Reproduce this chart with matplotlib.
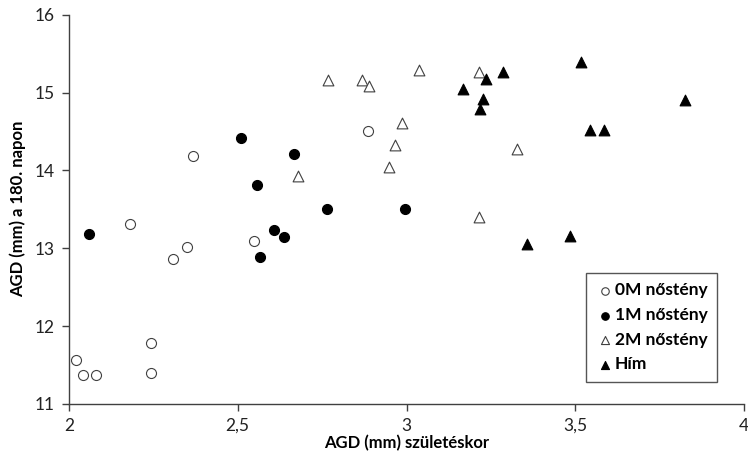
import matplotlib
matplotlib.use("Agg")
import matplotlib.pyplot as plt
from matplotlib.ticker import FuncFormatter

plt.rcParams['font.family'] = ['Lato', 'DejaVu Sans']

# AGD at birth (x) and AGD on day 180 (y), per group
f0m_x = [2.021, 2.041, 2.081, 2.242, 2.242, 2.18, 2.309, 2.35, 2.368, 2.547, 2.887]
f0m_y = [11.57, 11.37, 11.37, 11.78, 11.40, 13.31, 12.86, 13.01, 14.19, 13.09, 14.51]

f1m_x = [2.06, 2.509, 2.667, 2.558, 2.765, 2.996, 2.609, 2.637, 2.567]
f1m_y = [13.18, 14.42, 14.21, 13.81, 13.50, 13.50, 13.24, 13.15, 12.89]

f2m_x = [2.68, 2.987, 2.966, 2.948, 2.768, 2.867, 2.889, 3.037, 3.216, 3.326, 3.216]
f2m_y = [13.93, 14.61, 14.32, 14.04, 15.16, 15.16, 15.09, 15.29, 15.26, 14.28, 13.40]

him_x = [3.236, 3.287, 3.166, 3.226, 3.217, 3.516, 3.824, 3.544, 3.585, 3.356, 3.485]
him_y = [15.18, 15.26, 15.04, 14.92, 14.79, 15.39, 14.91, 14.52, 14.52, 13.05, 13.16]

labels = ["0M nőstény", "1M nőstény", "2M nőstény", "Hím"]

fig = plt.figure(figsize=(7.48, 4.58), dpi=100)
ax = fig.add_axes([0.092, 0.118, 0.903, 0.850])

edge = '#404040'
ax.scatter(f0m_x, f0m_y, s=52, marker='o', facecolors='white', edgecolors=edge,
           linewidths=0.8, label=labels[0], zorder=3)
ax.scatter(f1m_x, f1m_y, s=52, marker='o', facecolors='black', edgecolors='black',
           linewidths=0.8, label=labels[1], zorder=3)
ax.scatter(f2m_x, f2m_y, s=60, marker='^', facecolors='white', edgecolors=edge,
           linewidths=0.8, label=labels[2], zorder=3)
ax.scatter(him_x, him_y, s=60, marker='^', facecolors='black', edgecolors='black',
           linewidths=0.8, label=labels[3], zorder=3)

ax.set_xlim(2, 4)
ax.set_ylim(11, 16)
ax.set_xticks([2, 2.5, 3, 3.5, 4])
ax.set_yticks([11, 12, 13, 14, 15, 16])
ax.xaxis.set_major_formatter(FuncFormatter(lambda v, p: f"{v:g}".replace('.', ',')))

for side in ['top', 'right']:
    ax.spines[side].set_visible(False)
for side in ['left', 'bottom']:
    ax.spines[side].set_color(edge)
    ax.spines[side].set_linewidth(1.0)
ax.tick_params(direction='out', length=5, width=1.0, color=edge, labelsize=12.5,
               labelcolor='#222222', pad=5)

ax.set_xlabel("AGD (mm) születéskor", fontsize=12, fontweight='bold', labelpad=1)
ax.set_ylabel("AGD (mm) a 180. napon", fontsize=12, fontweight='bold', labelpad=6)

leg = ax.legend(loc='lower right', bbox_to_anchor=(0.973, 0.034),
                prop={'weight': 'bold', 'size': 12.5}, markerscale=0.75,
                handletextpad=0.1, handlelength=1.0, labelspacing=0.5,
                borderpad=0.55, fancybox=False, framealpha=1, edgecolor='#555555')
leg.get_frame().set_linewidth(1.0)

fig.savefig("out.png", dpi=100)
